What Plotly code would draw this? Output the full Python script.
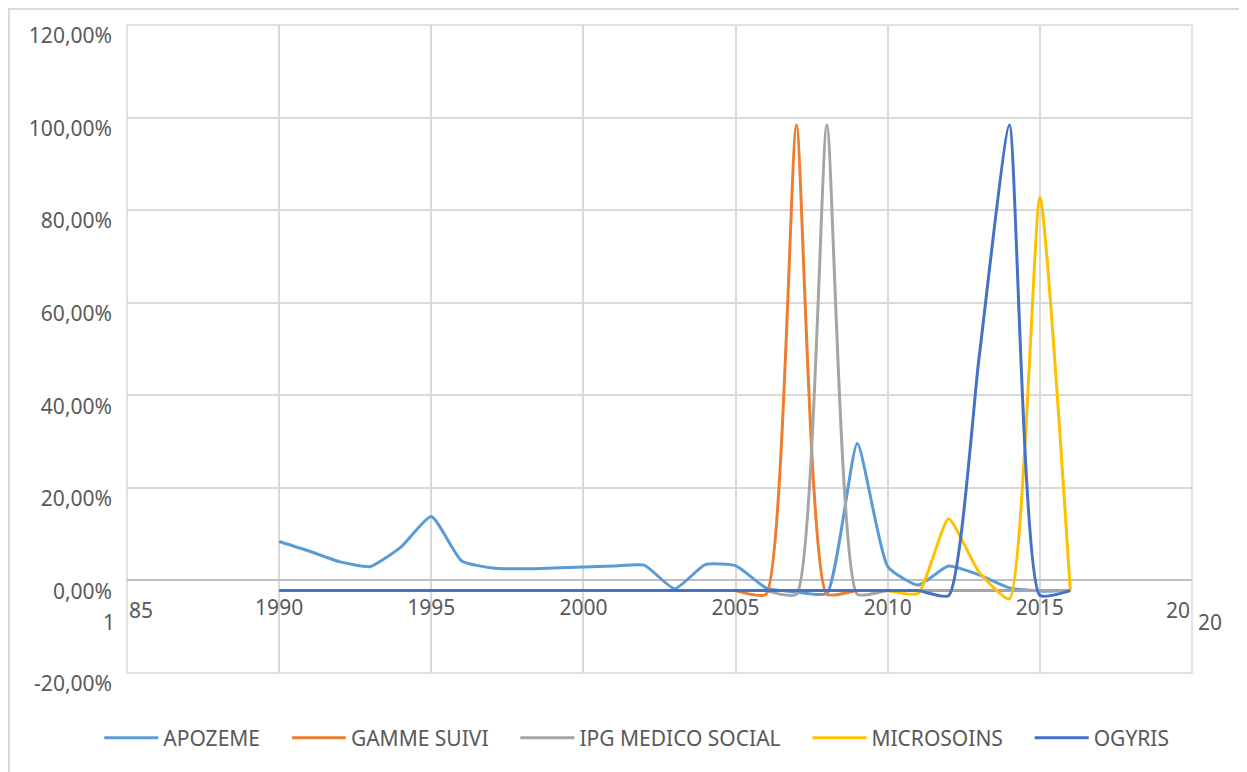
import plotly.graph_objects as go

# ------------------ Données ------------------ #

annees = list(range(1990, 2017))

apozeme = [8.4, 6.3, 4.0, 3.0, 7.2, 13.8, 4.2, 2.7, 2.5, 2.7, 2.9, 3.1, 3.3, -1.8,
           3.4, 3.2, -1.6, -2.5, -2.8, 29.6, 3.0, -1.0, 3.1, 1.2, -1.6, -2.3, -2.2]

gamme_suivi = [None] * 15 + [-2.2, -3.0, 98.4, -3.0, -2.2, -2.2, -2.2, -2.2,
                             -2.2, -2.2, -2.2, -2.2]

ipg_medico_social = [None] * 16 + [-2.2, -3.0, 98.4, -3.0, -2.2, -2.2, -2.2,
                                   -2.2, -2.2, -2.2, -2.2]

microsoins = [None] * 20 + [-2.2, -2.8, 13.3, 1.8, -4.0, 82.8, -2.2]

ogyris = [-2.2] * 22 + [-3.3, 48.0, 98.4, -3.2, -2.2]

series = [
    ("APOZEME", apozeme, "#5B9BD5"),
    ("GAMME SUIVI", gamme_suivi, "#ED7D31"),
    ("IPG MEDICO SOCIAL", ipg_medico_social, "#A5A5A5"),
    ("MICROSOINS", microsoins, "#FFC000"),
    ("OGYRIS", ogyris, "#4472C4"),
]

y_ticks = [-20, 0, 20, 40, 60, 80, 100, 120]
y_labels = ["-20,00%", "0,00%", "20,00%", "40,00%", "60,00%", "80,00%",
            "100,00%", "120,00%"]
x_ticks = [1985, 1990, 1995, 2000, 2005, 2010, 2015, 2020]
x_labels = ["", "1990", "1995", "2000", "2005", "2010", "2015", ""]

# ------------------ Graphique ------------------ #

police = dict(family="Noto Sans", size=21, color="#595959")
espace = "\u00a0" * 4  # écart entre les entrées de la légende

fig = go.Figure()
for nom, valeurs, couleur in series:
    fig.add_trace(
        go.Scatter(
            x=annees,
            y=valeurs,
            name=nom + espace,
            mode="lines",
            line=dict(color=couleur, width=3, shape="spline", smoothing=0.5),
            connectgaps=False,
        )
    )

fig.update_layout(
    width=1247,
    height=772,
    margin=dict(l=119, r=63, t=17, b=107),
    paper_bgcolor="white",
    plot_bgcolor="white",
    font=police,
    showlegend=True,
    legend=dict(
        orientation="h",
        x=-0.026,
        xanchor="left",
        y=-0.1003,
        yanchor="middle",
        font=police,
        itemwidth=54,
    ),
    xaxis=dict(
        range=[1985, 2020],
        tickvals=x_ticks,
        ticktext=x_labels,
        showgrid=True,
        gridcolor="#D9D9D9",
        gridwidth=1.5,
        zeroline=False,
        showline=False,
        anchor="free",
        position=20 / 140,
        ticks="",
        ticklabelstandoff=13,
        tickfont=police,
    ),
    yaxis=dict(
        range=[-20, 120],
        tickvals=y_ticks,
        ticktext=y_labels,
        showgrid=True,
        gridcolor="#D9D9D9",
        gridwidth=1.5,
        zeroline=True,
        zerolinecolor="#BFBFBF",
        zerolinewidth=2,
        showline=False,
        ticks="",
        ticklabelstandoff=14,
        ticklabelshift=11,
        ticklabeloverflow="allow",
        tickfont=police,
    ),
)

# étiquettes coupées aux extrémités de l'axe des abscisses
for texte, annee, xa, decal_x, decal_y in [
    ("1", 1985, "right", -10, -42),
    ("85", 1985, "left", 0, -30),
    ("20", 2020, "right", 0, -30),
    ("20", 2020, "left", 4, -42),
]:
    fig.add_annotation(
        x=annee,
        y=0,
        xref="x",
        yref="y",
        text=texte,
        showarrow=False,
        xanchor=xa,
        yanchor="middle",
        xshift=decal_x,
        yshift=decal_y,
        font=police,
    )

# cadre de la zone de traçage (quadrillage aux bords)
fig.add_shape(
    type="rect",
    xref="paper",
    yref="paper",
    x0=0,
    x1=1,
    y0=0,
    y1=1,
    line=dict(color="#D9D9D9", width=1.5),
    layer="below",
)

# bordure de la zone du graphique
fig.add_shape(
    type="rect",
    xref="paper",
    yref="paper",
    x0=-118 / 1065,
    x1=1.2,
    y0=-0.3,
    y1=1 + 16 / 648,
    line=dict(color="#D9D9D9", width=2),
    layer="below",
)

fig.write_html("out.html")
